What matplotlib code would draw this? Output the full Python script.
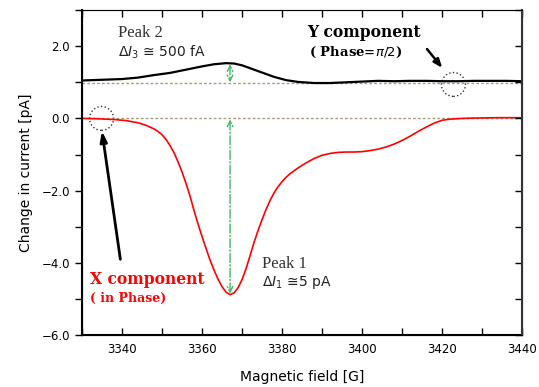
import matplotlib.pyplot as plt
from matplotlib.patches import Ellipse
from matplotlib.ticker import MultipleLocator, FuncFormatter

# X component (in phase)
campo_x = [3330, 3334, 3338, 3341, 3344, 3346, 3348, 3349, 3350, 3351, 3352, 3353,
           3354, 3355, 3356, 3357, 3358, 3359, 3360, 3361, 3362, 3363, 3364, 3365,
           3366, 3367, 3368, 3369, 3370, 3371, 3372, 3373, 3374, 3375, 3376, 3377,
           3378, 3379, 3380, 3381, 3382, 3384, 3386, 3388, 3390, 3392, 3394, 3396,
           3398, 3400, 3402, 3404, 3406, 3408, 3410, 3412, 3414, 3416, 3418, 3420,
           3422, 3425, 3428, 3434, 3440]
corrente_x = [0.0, -0.01, -0.03, -0.06, -0.12, -0.19, -0.29, -0.36, -0.45, -0.58,
              -0.75, -0.95, -1.2, -1.48, -1.8, -2.15, -2.55, -2.92, -3.27, -3.6,
              -3.92, -4.2, -4.45, -4.66, -4.81, -4.88, -4.83, -4.69, -4.46, -4.16,
              -3.8, -3.43, -3.1, -2.8, -2.52, -2.27, -2.06, -1.89, -1.75, -1.63,
              -1.53, -1.37, -1.23, -1.11, -1.02, -0.97, -0.94, -0.93, -0.93, -0.92,
              -0.89, -0.85, -0.79, -0.71, -0.61, -0.49, -0.36, -0.24, -0.13, -0.05,
              -0.02, 0.0, 0.01, 0.02, 0.02]

# Y component (phase = pi/2), shifted by ~1 pA
campo_y = [3330, 3335, 3340, 3344, 3348, 3352, 3356, 3360, 3363, 3366, 3368, 3370,
           3372, 3375, 3378, 3381, 3384, 3388, 3392, 3396, 3400, 3404, 3408, 3412,
           3416, 3420, 3424, 3428, 3432, 3436, 3440]
corrente_y = [1.05, 1.07, 1.09, 1.13, 1.2, 1.26, 1.35, 1.44, 1.5, 1.53, 1.52, 1.47,
              1.39, 1.27, 1.15, 1.06, 1.01, 0.98, 0.98, 1.0, 1.02, 1.04, 1.03, 1.04,
              1.04, 1.03, 1.03, 1.04, 1.04, 1.04, 1.03]

base_x = 0.0
base_y = 0.97
pico_campo = 3367
pico_x = -4.88
pico_y = 1.53

fig = plt.figure(figsize=(5.39, 3.87), dpi=100)
ax = fig.add_axes([0.152, 0.134, 0.817, 0.84])

ax.axhline(base_x, color='#a89f7a', lw=1, ls=(0, (2, 1.5)))
ax.axhline(base_y, color='#a89f7a', lw=1, ls=(0, (2, 1.5)))

ax.plot(campo_x, corrente_x, color='red', lw=1.2)
ax.plot(campo_y, corrente_y, color='black', lw=1.6)

verde = '#3cb862'
ax.annotate('', xy=(pico_campo, pico_x + 0.03), xytext=(pico_campo, base_x - 0.03),
            arrowprops=dict(arrowstyle='<->', color=verde, lw=1, ls='-.',
                            shrinkA=0, shrinkB=0))
ax.annotate('', xy=(pico_campo, base_y + 0.03), xytext=(pico_campo, pico_y - 0.03),
            arrowprops=dict(arrowstyle='<->', color=verde, lw=1, ls='-.',
                            shrinkA=0, shrinkB=0))

# dotted circles
ax.add_patch(Ellipse((3334.9, 0.0), 6, 0.66, fill=False, ls=':', lw=1, color='#333333'))
ax.add_patch(Ellipse((3422.8, 0.94), 6, 0.66, fill=False, ls=':', lw=1, color='#333333'))

# pointer arrows
ax.annotate('', xy=(3335, -0.35), xytext=(3339.6, -3.9),
            arrowprops=dict(arrowstyle='-|>,head_length=0.6,head_width=0.2',
                            color='black', lw=2, shrinkA=0, shrinkB=0))
ax.annotate('', xy=(3420, 1.4), xytext=(3416.2, 1.92),
            arrowprops=dict(arrowstyle='-|>,head_length=0.5,head_width=0.2',
                            color='black', lw=1.8, shrinkA=0, shrinkB=0))

serif = 'Liberation Serif'
ax.text(3339, 2.37, 'Peak 2', family=serif, fontsize=12, color='#333333', va='center')
ax.text(3339, 1.84, r'$\Delta I_3$ ≅ 500 fA', fontsize=10, color='#222222', va='center')
ax.text(3386.3, 2.37, 'Y component', family='DejaVu Serif', fontsize=11.2,
        fontweight='bold', va='center')
ax.text(3386.8, 1.84, r'( Phase=$\pi/2$)', family='DejaVu Serif', fontsize=9.5,
        fontweight='bold', va='center')
ax.text(3332, -4.46, 'X component', family='DejaVu Serif', fontsize=11.2,
        fontweight='bold', color='red', va='center')
ax.text(3332, -4.98, '( in Phase)', family='DejaVu Serif', fontsize=9,
        fontweight='bold', color='red', va='center')
ax.text(3375, -4.02, 'Peak 1', family=serif, fontsize=12, color='#333333', va='center')
ax.text(3375, -4.54, r'$\Delta I_1$ ≅5 pA', fontsize=10, color='#222222', va='center')

ax.set_xlim(3330, 3440)
ax.set_ylim(-6, 3)
ax.xaxis.set_major_locator(MultipleLocator(20))
ax.xaxis.set_minor_locator(MultipleLocator(10))
ax.yaxis.set_major_locator(MultipleLocator(2))
ax.yaxis.set_minor_locator(MultipleLocator(1))
ax.yaxis.set_major_formatter(FuncFormatter(lambda v, p: ('%.1f' % v).replace('-', '\u2212')))
ax.tick_params(axis='x', which='both', direction='in', top=True, length=5,
               width=1, labelsize=8.5, pad=6)
ax.tick_params(axis='y', which='both', direction='out', length=5, width=1,
               labelsize=8.5)
ax.yaxis.set_ticks_position('left')
ax2 = ax.twinx()
ax2.set_ylim(-6, 3)
ax2.yaxis.set_major_locator(MultipleLocator(1))
ax2.tick_params(axis='y', direction='in', length=5, width=1, labelright=False)

for lado in ['left', 'bottom']:
    ax.spines[lado].set_linewidth(1.5)
ax2.spines['right'].set_linewidth(1.5)
ax2.spines['right'].set_color('#333333')
ax.spines['top'].set_linewidth(0.8)
ax.spines['top'].set_color('#666666')

ax.set_xlabel('Magnetic field [G]', fontsize=10, labelpad=10)
ax.set_ylabel('Change in current [pA]', fontsize=10, labelpad=6)

fig.savefig('out.png', dpi=100)
